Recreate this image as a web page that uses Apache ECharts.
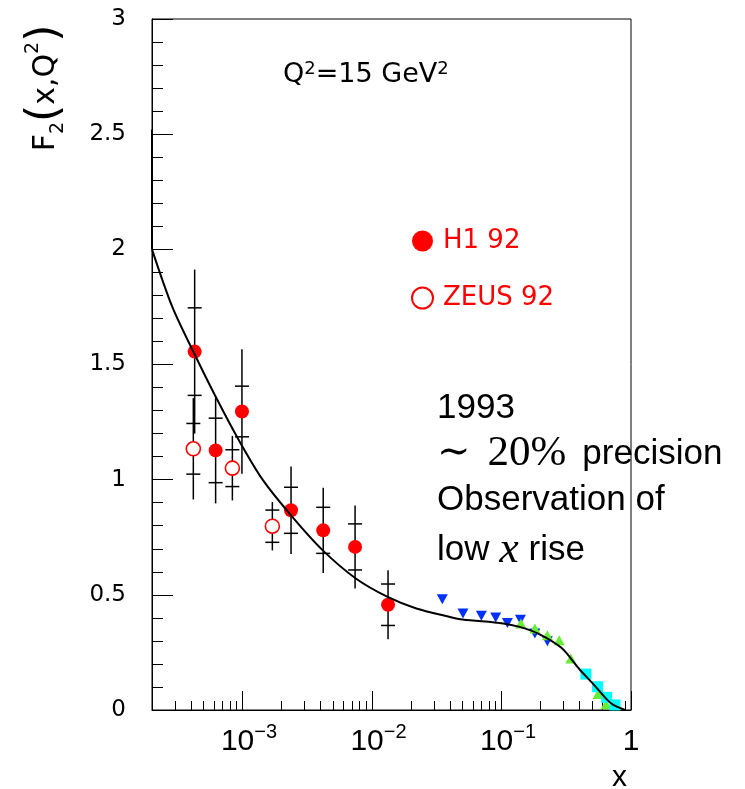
<!DOCTYPE html>
<html><head><meta charset="utf-8">
<script src="https://cdn.jsdelivr.net/npm/echarts@6/dist/echarts.min.js"></script>
<style>html,body{margin:0;padding:0;background:#fff}#c{width:745px;height:789px}</style>
</head><body><div id="c"></div>
<script>
// ---- data ----
const curveX = [2e-4, 2.87e-4, 4.22e-4, 6.21e-4, 9.4e-4, 1.43e-3, 2.37e-3, 4.15e-3, 7.5e-3, 1.32e-2, 2.2e-2, 4.0e-2, 5.0e-2, 0.103, 0.138, 0.192, 0.29, 0.40, 0.526, 0.65, 0.73, 0.90];
const curveY = [2.00, 1.75, 1.55, 1.36, 1.17, 1.00, 0.845, 0.694, 0.571, 0.491, 0.441, 0.404, 0.393, 0.376, 0.361, 0.332, 0.270, 0.177, 0.105, 0.046, 0.022, 0.0];
const edgeX = [2e-4, 2e-4];
const edgeY = [2.00, 2.52];

const h1X = [4.27e-4, 6.2e-4, 9.9e-4, 2.37e-3, 4.2e-3, 7.4e-3, 1.33e-2];
const h1Y = [1.556, 1.127, 1.296, 0.867, 0.780, 0.708, 0.457];
const h1Stat = [0.19, 0.14, 0.11, 0.10, 0.10, 0.10, 0.09];
const h1Tot = [0.356, 0.23, 0.27, 0.19, 0.185, 0.18, 0.15];

const zeusX = [4.17e-4, 8.35e-4, 1.70e-3];
const zeusY = [1.134, 1.050, 0.798];
const zeusStat = [0.11, 0.08, 0.07];
const zeusTot = [0.22, 0.14, 0.105];

const nmcX = [0.0349, 0.0504, 0.0699, 0.0902, 0.111, 0.140, 0.181, 0.226];
const nmcY = [0.481, 0.419, 0.409, 0.402, 0.378, 0.392, 0.332, 0.299];

const bcdmsX = [0.141, 0.181, 0.226, 0.279, 0.343, 0.556, 0.641];
const bcdmsY = [0.376, 0.354, 0.325, 0.303, 0.224, 0.070, 0.025];

const slacX = [0.449, 0.552, 0.649, 0.752];
const slacY = [0.156, 0.101, 0.055, 0.022];

const majorXTicks = [1e-3, 1e-2, 1e-1, 1];
const majorXLabels = ['{b|10}{s|\u22123}', '{b|10}{s|\u22122}', '{b|10}{s|\u22121}', '{o|1}'];
const minorXTicks = [3e-4, 4e-4, 5e-4, 6e-4, 7e-4, 8e-4, 9e-4,
  2e-3, 3e-3, 4e-3, 5e-3, 6e-3, 7e-3, 8e-3, 9e-3,
  2e-2, 3e-2, 4e-2, 5e-2, 6e-2, 7e-2, 8e-2, 9e-2,
  0.2, 0.3, 0.4, 0.5, 0.6, 0.7, 0.8, 0.9];

// ---- helpers ----
const pairs = (xs, ys) => xs.map((x, i) => [x, ys[i]]);
const errs = (xs, ys, s, t) => xs.map((x, i) => [x, ys[i], s[i], t[i]]);

function errRender(params, api) {
  const x = api.value(0), y = api.value(1), s = api.value(2), t = api.value(3);
  const pT = api.coord([x, y + t]), pB = api.coord([x, y - t]);
  const sT = api.coord([x, y + s]), sB = api.coord([x, y - s]);
  const st = { stroke: '#000', lineWidth: 1.5 };
  const hw = 7;
  return { type: 'group', children: [
    { type: 'line', shape: { x1: pT[0], y1: pT[1], x2: pB[0], y2: pB[1] }, style: st },
    { type: 'line', shape: { x1: sT[0] - hw, y1: sT[1], x2: sT[0] + hw, y2: sT[1] }, style: st },
    { type: 'line', shape: { x1: sB[0] - hw, y1: sB[1], x2: sB[0] + hw, y2: sB[1] }, style: st }
  ]};
}

const chart = echarts.init(document.getElementById('c'), null, { renderer: 'canvas' });
const SANS = 'DejaVu Sans';
const LSANS = 'Liberation Sans';

chart.setOption({
  animation: false,
  backgroundColor: '#ffffff',
  grid: { left: 152, right: 114, top: 19, bottom: 79, show: true, borderColor: '#000', borderWidth: 1, outerBoundsMode: 'none' },
  legend: {
    data: ['H1 92', 'ZEUS 92'], orient: 'vertical', left: 406, top: 223,
    itemWidth: 21, itemHeight: 21, itemGap: 31, selectedMode: false,
    textStyle: { color: '#ff0000', fontSize: 26, fontFamily: SANS, padding: [0, 0, 0, 5] }
  },
  xAxis: [
    { type: 'log', logBase: 10, min: 2e-4, max: 1, position: 'bottom',
      axisLine: { show: true, lineStyle: { color: '#000', width: 1 } },
      axisTick: { show: true, inside: true, length: 19, customValues: majorXTicks, lineStyle: { color: '#000' } },
      axisLabel: { customValues: majorXTicks, margin: 12, color: '#000',
        formatter: function (v) { const i = majorXTicks.findIndex(t => Math.abs(Math.log10(t) - Math.log10(v)) < 1e-6); return i >= 0 ? majorXLabels[i] : ''; },
        rich: {
          b: { fontSize: 30, fontFamily: LSANS, color: '#000', lineHeight: 40, padding: [0, 0, 0, 13] },
          s: { fontSize: 20, fontFamily: LSANS, color: '#000', lineHeight: 10, verticalAlign: 'top' },
          o: { fontSize: 30, fontFamily: LSANS, color: '#000', lineHeight: 40 }
        } },
      splitLine: { show: false }, minorTick: { show: false } },
    { type: 'log', logBase: 10, min: 2e-4, max: 1, position: 'bottom', gridIndex: 0,
      axisLine: { show: false },
      axisTick: { show: true, inside: true, length: 9, customValues: minorXTicks, lineStyle: { color: '#000' } },
      axisLabel: { show: false }, splitLine: { show: false } }
  ],
  yAxis: {
    type: 'value', min: 0, max: 3, interval: 0.5,
    axisLine: { show: true, lineStyle: { color: '#000', width: 1 } },
    axisTick: { show: true, inside: true, length: 21, lineStyle: { color: '#000' } },
    minorTick: { show: true, splitNumber: 5, length: 11, lineStyle: { color: '#000' } },
    axisLabel: { margin: 26, fontSize: 23, fontFamily: SANS, color: '#000' },
    splitLine: { show: false }
  },
  series: [
    { type: 'scatter', name: 'NMC', data: pairs(nmcX, nmcY), symbol: 'triangle', symbolRotate: 180, symbolSize: [11, 10], itemStyle: { color: '#0030ff', opacity: 1 }, z: 3, silent: true },
    { type: 'scatter', name: 'BCDMS', data: pairs(bcdmsX, bcdmsY), symbol: 'triangle', symbolSize: [11, 10], itemStyle: { color: '#66ee33', opacity: 1 }, z: 3, silent: true },
    { type: 'scatter', name: 'SLAC', data: pairs(slacX, slacY), symbol: 'rect', symbolSize: 11, itemStyle: { color: '#00ffff', opacity: 1 }, z: 3, silent: true },
    { type: 'custom', name: 'H1err', data: errs(h1X, h1Y, h1Stat, h1Tot), renderItem: errRender, encode: { x: 0, y: 1 }, z: 2, silent: true },
    { type: 'custom', name: 'ZEUSerr', data: errs(zeusX, zeusY, zeusStat, zeusTot), renderItem: errRender, encode: { x: 0, y: 1 }, z: 2, silent: true },
    { type: 'scatter', name: 'H1 92', data: pairs(h1X, h1Y), symbol: 'circle', symbolSize: 14, itemStyle: { color: '#ff0000', opacity: 1 }, z: 4, silent: true },
    { type: 'scatter', name: 'ZEUS 92', data: pairs(zeusX, zeusY), symbol: 'circle', symbolSize: 14, itemStyle: { color: '#ffffff', borderColor: '#ff0000', borderWidth: 1.6, opacity: 1 }, z: 4, silent: true },
    { type: 'line', name: 'curve', data: pairs(curveX, curveY), symbol: 'none', smooth: 0.3, lineStyle: { color: '#000', width: 2 }, z: 6, silent: true },
    { type: 'line', name: 'edge', data: pairs(edgeX, edgeY), symbol: 'none', lineStyle: { color: '#000', width: 2 }, z: 6, silent: true }
  ],
  graphic: [
    { type: 'text', x: 46, y: 88, rotation: Math.PI / 2, silent: true,
      style: { text: '{f|F}{sub|2}{p|(}{t|x,Q}{sup|2}{p|)}', align: 'center', verticalAlign: 'middle', fill: '#000',
        rich: {
          f: { fontSize: 30, fontFamily: SANS, fill: '#000', lineHeight: 44 },
          t: { fontSize: 30, fontFamily: SANS, fill: '#000', lineHeight: 44 },
          sub: { fontSize: 19, fontFamily: SANS, fill: '#000', lineHeight: 24, verticalAlign: 'bottom' },
          sup: { fontSize: 19, fontFamily: SANS, fill: '#000', lineHeight: 20, verticalAlign: 'top' },
          p: { fontSize: 44, fontFamily: SANS, fill: '#000', lineHeight: 44 }
        } } },
    { type: 'text', x: 283, y: 75, silent: true,
      style: { text: '{b|Q}{s|2}{b|=15 GeV}{s|2}', align: 'left', verticalAlign: 'middle', fill: '#000',
        rich: {
          b: { fontSize: 27, fontFamily: SANS, fill: '#000', lineHeight: 30 },
          s: { fontSize: 18, fontFamily: SANS, fill: '#000', lineHeight: 12, verticalAlign: 'top' }
        } } },
    { type: 'text', x: 612, y: 778, silent: true,
      style: { text: 'x', fontSize: 30, fontFamily: LSANS, fill: '#000', align: 'left', verticalAlign: 'middle' } },
    { type: 'text', x: 437, y: 408, silent: true,
      style: { text: '1993', fontSize: 35, fontFamily: LSANS, fill: '#000', align: 'left', verticalAlign: 'middle' } },
    { type: 'text', x: 437, y: 454, silent: true,
      style: { text: '{m|\u223C}{n|20%}{t|precision}', align: 'left', verticalAlign: 'middle', fill: '#000',
        rich: {
          m: { fontSize: 40, fontFamily: 'DejaVu Serif', fill: '#000', lineHeight: 48 },
          n: { fontSize: 43, fontFamily: 'Liberation Serif', fill: '#000', lineHeight: 48, padding: [0, 16, 0, 17] },
          t: { fontSize: 35, fontFamily: LSANS, fill: '#000', lineHeight: 48 }
        } } },
    { type: 'text', x: 437, y: 500, silent: true,
      style: { text: 'Observation of', fontSize: 35, fontFamily: LSANS, fill: '#000', align: 'left', verticalAlign: 'middle' } },
    { type: 'text', x: 437, y: 550, silent: true,
      style: { text: '{t|low }{i|x}{t| rise}', align: 'left', verticalAlign: 'middle', fill: '#000',
        rich: {
          t: { fontSize: 35, fontFamily: LSANS, fill: '#000', lineHeight: 44 },
          i: { fontSize: 44, fontFamily: 'Liberation Serif', fontStyle: 'italic', fill: '#000', lineHeight: 44 }
        } } }
  ]
});
</script>
</body></html>
